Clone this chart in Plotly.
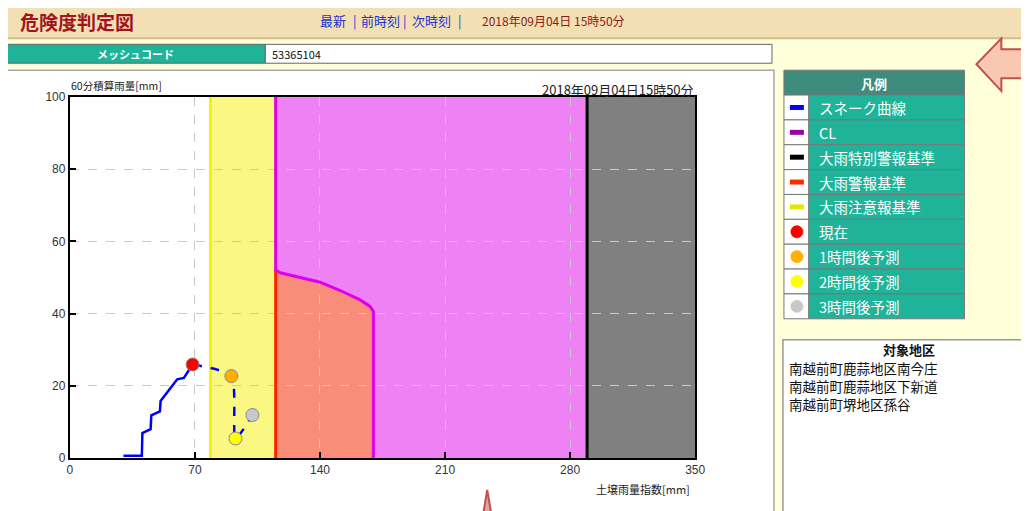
import plotly.graph_objects as go

# Figure size and an empirical page->figure mapping (the photographed page shows
# the figure slightly offset/scaled), so reference pixel positions are mapped through it.
W, H = 1029, 509
SX, SY = 0.99, 0.978
OX, OY = 10.0, 13.5
JP = "Noto Sans CJK JP"
NUM = "Liberation Sans"

# ---------------- data ----------------
snake_x = [30, 40.3, 40.6, 45.2, 45.6, 50.4, 50.8, 55.5, 60.1, 63.8, 67.2, 68.7]
snake_y = [0.6, 0.6, 6.9, 8.0, 11.8, 12.9, 15.8, 19.0, 21.8, 22.2, 25.0, 25.9]

forecast_labels = ["現在", "1時間後予測", "2時間後予測", "3時間後予測"]
forecast_x = [68.7, 90.4, 92.7, 102.2]
forecast_y = [25.9, 22.7, 5.4, 11.9]
forecast_colors = ["#FF0000", "#FFB000", "#FFFF00", "#C8C8C8"]

cl_x = [115.2, 115.2, 117.8, 125.2, 140.1, 151.3, 162.5, 168.0, 169.9, 169.9]
cl_y = [100, 52.1, 51.3, 50.4, 48.7, 46.4, 43.8, 42.0, 40.6, 0]

caution_x = 78.7      # 大雨注意報基準
warning_x = 115.2     # 大雨警報基準
special_x = 289.5     # 大雨特別警報基準
x_max, y_max = 350, 100

x_ticks = [0, 70, 140, 210, 280, 350]
y_ticks = [0, 20, 40, 60, 80, 100]

legend_labels = ["スネーク曲線", "CL", "大雨特別警報基準", "大雨警報基準", "大雨注意報基準",
                 "現在", "1時間後予測", "2時間後予測", "3時間後予測"]
legend_colors = ["#0000FF", "#9900AA", "#000000", "#FF2A00", "#E6E600",
                 "#FF0000", "#FFB000", "#FFFF00", "#C8C8C8"]
legend_kinds = ["line", "line", "line", "line", "line", "dot", "dot", "dot", "dot"]

areas = ["南越前町鹿蒜地区南今庄", "南越前町鹿蒜地区下新道", "南越前町堺地区孫谷"]

page_title = "危険度判定図"
nav_items = ["最新", "|", "前時刻", "|", "次時刻", "|"]
date_text = "2018年09月04日 15時50分"
chart_date = "2018年09月04日15時50分"
mesh_label = "メッシュコード"
mesh_code = "53365104"

# ---------------- helpers (reference page pixels -> paper) ----------------
def px(x):
    return ((x - OX) / SX) / W

def py(y):
    return 1 - ((y - OY) / SY) / H

shapes = []
annotations = []

def rect(x0, y0, x1, y1, fill, line=None, lw=1, layer="below"):
    shapes.append(dict(type="rect", xref="paper", yref="paper",
                       x0=px(x0), x1=px(x1), y0=py(y1), y1=py(y0),
                       fillcolor=fill, layer=layer,
                       line=dict(color=line if line else fill, width=lw if line else 0)))

def circle(cx, cy, r, fill, line="#999999"):
    shapes.append(dict(type="circle", xref="paper", yref="paper",
                       x0=px(cx - r), x1=px(cx + r), y0=py(cy + r), y1=py(cy - r),
                       fillcolor=fill, line=dict(color=line, width=0.5), layer="above"))

def text(x, y, s, size, color, anchor="left", bold=False, family=JP):
    annotations.append(dict(xref="paper", yref="paper", x=px(x), y=py(y),
                            text=f"<b>{s}</b>" if bold else s, showarrow=False,
                            xanchor=anchor, yanchor="middle",
                            font=dict(size=size, color=color, family=family)))

def poly(points, fill, line, lw=2):
    path = "M " + " L ".join(f"{px(a):.5f},{py(b):.5f}" for a, b in points) + " Z"
    shapes.append(dict(type="path", xref="paper", yref="paper", path=path,
                       fillcolor=fill, line=dict(color=line, width=lw), layer="above"))

# ---------------- page frame ----------------
rect(3, 0, 1040, 37, "#F3DFB4", "#D6BC8A", 2)
text(17, 20, page_title, 19, "#A0141E", bold=True)
for nx, item in zip([318, 351, 359, 401, 410, 456], nav_items):
    text(nx, 19, item, 13, "#2233CC")
text(480, 19, date_text, 12, "#8B1A1A")

rect(5, 43, 265, 62, "#1FB39A", "#666666", 1)
rect(265, 43, 773, 62, "#FFFFFF", "#666666", 1)
text(135, 52.5, mesh_label, 11, "#FFFFFF", anchor="center", bold=True)
text(270, 52.5, mesh_code, 11, "#111111")

rect(5, 69, 775, 530, "#FFFFFF", "#A8A8A8", 1.5)

# ---------------- legend table ----------------
rect(785, 69, 966, 94, "#3E8C7E", "#777777", 1)
text(875, 82, "凡例", 13, "#FFFFFF", anchor="center", bold=True)
row_h = 25
for i, (lab, col, kind) in enumerate(zip(legend_labels, legend_colors, legend_kinds)):
    top = 94 + i * row_h
    cy = top + row_h / 2
    rect(785, top, 810, top + row_h, "#FFFFFF", "#777777", 1)
    rect(810, top, 966, top + row_h, "#1FB39A", "#777777", 1)
    if kind == "line":
        rect(791, cy - 2.5, 805, cy + 2.5, col, layer="above")
    else:
        circle(798, cy, 6.2, col, col)
    text(818, cy, lab, 14.5, "#FFFFFF")

# ---------------- target area box ----------------
rect(784, 340, 1040, 530, "#FFFFFF", "#999999", 1.5)
text(910, 350, "対象地区", 13, "#111111", anchor="center", bold=True)
for j, a in enumerate(areas):
    text(788, 368 + j * 18.5, a, 13.5, "#111111")

# ---------------- decorative arrows ----------------
poly([(978, 63), (1003, 37), (1003, 48), (1040, 48), (1040, 77), (1003, 77), (1003, 90)],
     "#F9C8B0", "#C0504D", 2)
poly([(487.5, 491), (483.5, 515), (491.5, 515)], "#E8A0A0", "#C0504D", 2)

# ---------------- chart regions (data coordinates) ----------------
def drect(x0, x1, y0, y1, fill):
    shapes.append(dict(type="rect", xref="x", yref="y", x0=x0, x1=x1, y0=y0, y1=y1,
                       fillcolor=fill, line=dict(width=0), layer="below"))

drect(caution_x, warning_x, 0, y_max, "#FAF882")
drect(warning_x, special_x, 0, y_max, "#EE82F4")
drect(special_x, x_max, 0, y_max, "#808080")
salmon_pts = [(warning_x, 0)] + list(zip(cl_x[1:], cl_y[1:]))
salmon_path = "M " + " L ".join(f"{a},{b}" for a, b in salmon_pts) + " Z"
shapes.append(dict(type="path", xref="x", yref="y", path=salmon_path,
                   fillcolor="#FA8C7A", line=dict(width=0), layer="below"))

fig = go.Figure()
fig.add_trace(go.Scatter(x=[caution_x, caution_x], y=[0, y_max], mode="lines",
                         line=dict(color="#FFEE00", width=3), hoverinfo="skip"))
fig.add_trace(go.Scatter(x=[warning_x, warning_x], y=[0, cl_y[1]], mode="lines",
                         line=dict(color="#FF2200", width=3), hoverinfo="skip"))
fig.add_trace(go.Scatter(x=cl_x, y=cl_y, mode="lines",
                         line=dict(color="#DD00EE", width=3), hoverinfo="skip"))
fig.add_trace(go.Scatter(x=[special_x, special_x], y=[0, y_max], mode="lines",
                         line=dict(color="#000000", width=3), hoverinfo="skip"))
fig.add_trace(go.Scatter(x=snake_x, y=snake_y, mode="lines",
                         line=dict(color="#0000FF", width=2.5), hoverinfo="skip"))
fig.add_trace(go.Scatter(x=forecast_x, y=forecast_y, mode="lines",
                         line=dict(color="#0000FF", width=2.5, dash="dash",
                                   shape="spline", smoothing=0.6), hoverinfo="skip"))
fig.add_trace(go.Scatter(x=forecast_x, y=forecast_y, mode="markers", text=forecast_labels,
                         marker=dict(size=13, color=forecast_colors,
                                     line=dict(color="#888888", width=1)),
                         hoverinfo="text"))

# chart texts
text(68, 84, "60分積算雨量[mm]", 10.5, "#222222")
text(697, 88, chart_date, 13, "#222222", anchor="right")
text(693, 490, "土壌雨量指数[mm]", 11, "#222222", anchor="right")

axis_common = dict(showline=True, linecolor="#000000", linewidth=2, mirror=True,
                   ticks="inside", ticklen=6, tickwidth=2, tickcolor="#000000",
                   showgrid=True, gridcolor="#C8C8C8", griddash="dash", gridwidth=1,
                   zeroline=False, tickfont=dict(family=NUM, size=12, color="#333333"),
                   fixedrange=True)

fig.update_layout(
    width=W, height=H, autosize=False,
    margin=dict(l=0, r=0, t=0, b=0),
    paper_bgcolor="#FFFFDA", plot_bgcolor="#FFFFFF",
    showlegend=False,
    xaxis=dict(domain=[px(69), px(696)], range=[0, x_max], tickvals=x_ticks, **axis_common),
    yaxis=dict(domain=[py(459), py(96)], range=[0, y_max], tickvals=y_ticks, **axis_common),
    shapes=shapes, annotations=annotations,
)

fig.write_html("out.html")
